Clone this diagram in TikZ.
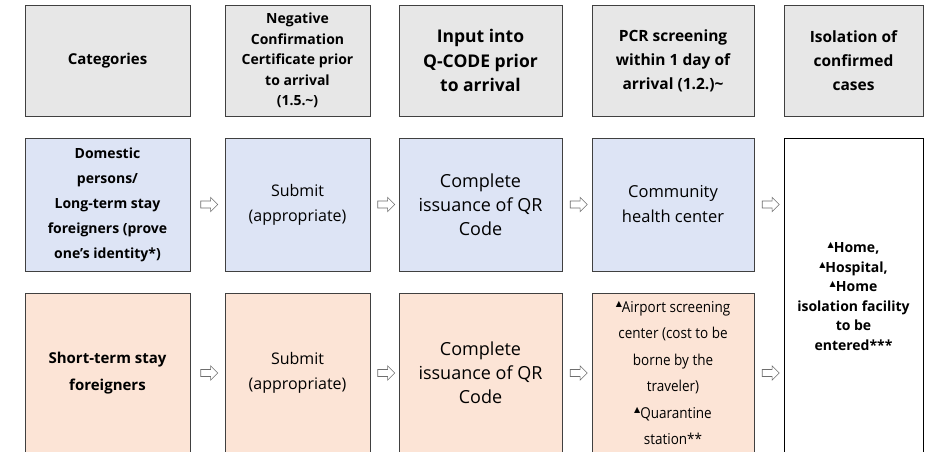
\documentclass[tikz,border=0pt]{standalone}
\usepackage{fontspec}
\setmainfont{Open Sans}
\newfontfamily\condfont[FakeStretch=0.9]{Open Sans}
\newfontfamily\dejavu{DejaVu Sans}
\usetikzlibrary{shapes.arrows,calc}
\definecolor{headgray}{HTML}{E7E7E7}
\definecolor{blue1}{HTML}{DDE4F5}
\definecolor{peach}{HTML}{FCE4D6}
\definecolor{boxline}{HTML}{404040}
\definecolor{arrowgray}{HTML}{6E6E6E}
\newcommand\tri{\raisebox{0.38em}{\dejavu\fontsize{8}{8}\selectfont ▲}}
\newcommand\fs[2]{\fontsize{#1}{#2}\selectfont}
\begin{document}
\begin{tikzpicture}[x=1pt,y=-1pt,
  box/.style={draw=boxline, line width=0.8pt, inner sep=0pt, align=center, text=black},
  head/.style={box, fill=headgray, minimum height=111pt},
  bluebox/.style={box, fill=blue1, minimum height=133pt},
  peachbox/.style={box, fill=peach, minimum height=160pt},
  isobox/.style={box, draw=black, line width=1pt, fill=white, minimum height=317pt, minimum width=139pt},
  barrow/.style={single arrow, draw=arrowgray, fill=white, line width=0.6pt,
    minimum height=17pt, inner xsep=0pt, inner ysep=3.2pt, single arrow head extend=3.6pt}
]
\useasboundingbox (0,0) rectangle (932,451);
\clip (0,0) rectangle (932,451);
\fill[white] (0,0) rectangle (932,451);

% header row
\node[head, minimum width=165pt, font=\bfseries\fs{15}{20}] (hcat) at (107.5,60.5) {Categories};
\node[head, minimum width=145pt, font=\bfseries\fs{14}{20.5}] (hneg) at (297.5,60.5)
  {Negative\\Confirmation\\Certificate prior\\to arrival\\(1.5.\textasciitilde)};
\node[head, minimum width=163pt, font=\bfseries\fs{17.5}{24.5}] (hinp) at (480.5,60.5)
  {Input into\\Q-CODE prior\\to arrival};
\node[head, minimum width=162pt, font=\bfseries\fs{15.5}{24}] (hpcr) at (673,60.5)
  {PCR screening\\within 1 day of\\arrival (1.2.)\textasciitilde};
\node[head, minimum width=139pt, font=\bfseries\fs{15.5}{24}] (hiso) at (853.5,60.5)
  {Isolation of\\confirmed\\cases};

% row 1
\node[bluebox, minimum width=165pt, font=\bfseries\fs{14}{25}] (cat1) at (107.5,204.5)
  {Domestic\\persons/\\Long-term stay\\foreigners (prove\\one’s identity*)};
\node[bluebox, minimum width=145pt, font=\fs{16}{25}] (neg1) at (297.5,204.5)
  {Submit\\(appropriate)};
\node[bluebox, minimum width=163pt, font=\fs{18}{24}] (inp1) at (480.5,204.5)
  {Complete\\issuance of QR\\Code};
\node[bluebox, minimum width=162pt, font=\fs{16.5}{25}] (pcr1) at (673,204.5)
  {Community\\health center};

% row 2
\node[peachbox, minimum width=165pt, font=\bfseries\fs{15}{27}] (cat2) at (107.5,373)
  {Short-term stay\\foreigners};
\node[peachbox, minimum width=145pt, font=\fs{16}{25}] (neg2) at (297.5,373)
  {Submit\\(appropriate)};
\node[peachbox, minimum width=163pt, font=\fs{18}{24}] (inp2) at (480.5,373)
  {Complete\\issuance of QR\\Code};
\node[peachbox, minimum width=162pt, font=\condfont\fs{15}{26.5}] (pcr2) at (673,373)
  {\tri Airport screening\\center (cost to be\\borne by the\\traveler)\\\tri Quarantine\\station**};

% isolation
\node[isobox, font=\bfseries\fs{14}{19.5}] (iso) at (853.5,296.5)
  {\tri Home,\\\tri Hospital,\\\tri Home\\isolation facility\\to be\\entered***};

% arrows
\node[barrow] (a11) at ($(cat1.east)!0.5!(neg1.west)$) {};
\node[barrow] (a12) at ($(neg1.east)!0.5!(inp1.west)$) {};
\node[barrow] (a13) at ($(inp1.east)!0.5!(pcr1.west)$) {};
\node[barrow] (a14) at ($(pcr1.east)!0.5!(pcr1.east -| iso.west)$) {};
\node[barrow] (a21) at ($(cat2.east)!0.5!(neg2.west)$) {};
\node[barrow] (a22) at ($(neg2.east)!0.5!(inp2.west)$) {};
\node[barrow] (a23) at ($(inp2.east)!0.5!(pcr2.west)$) {};
\node[barrow] (a24) at ($(pcr2.east)!0.5!(pcr2.east -| iso.west)$) {};
\end{tikzpicture}
\end{document}
